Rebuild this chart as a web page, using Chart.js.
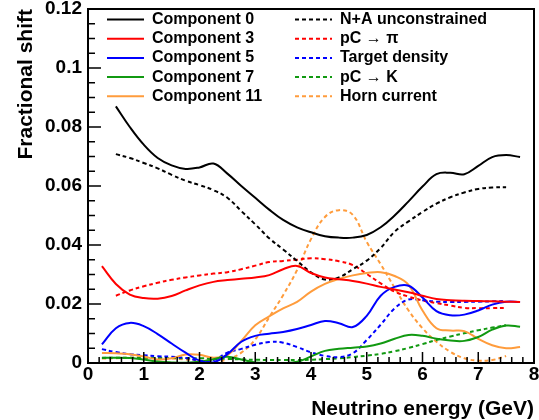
<!DOCTYPE html>
<html>
<head>
<meta charset="utf-8">
<script src="https://cdn.jsdelivr.net/npm/chart.js@4"></script>
<style>
  html, body { margin: 0; padding: 0; background: #fff; }
</style>
</head>
<body>
<canvas id="myChart" width="539" height="420"></canvas>
<script>
// neutrino energy bins (GeV)
const energy = [0.25, 0.5, 0.75, 1, 1.25, 1.5, 1.75, 2, 2.25, 2.5, 2.75,
                3, 3.25, 3.5, 3.75, 4, 4.25, 4.5, 4.75, 5, 5.25,
                5.5, 5.75, 6, 6.25, 6.5, 6.75, 7, 7.25, 7.5, 7.75];

// principal components (solid)
const comp0 = [null, 0.087, 0.080, 0.074, 0.0695, 0.067, 0.0658, 0.0663, 0.0676, 0.0642, 0.060,
               0.056, 0.052, 0.0485, 0.046, 0.0443, 0.043, 0.0425, 0.0425, 0.0434, 0.046,
               0.050, 0.0548, 0.0598, 0.064, 0.0645, 0.064, 0.0668, 0.0698, 0.0705, 0.0698];
const comp3 = [0.0328, 0.0268, 0.0232, 0.0220, 0.0218, 0.0227, 0.0246, 0.0263, 0.0275, 0.0281, 0.0286,
               0.029, 0.0298, 0.0318, 0.0329, 0.0305, 0.029, 0.0284, 0.0278, 0.0269, 0.0258,
               0.0249, 0.024, 0.0228, 0.0217, 0.0213, 0.0211, 0.021, 0.0209, 0.0208, 0.0207];
const comp5 = [0.0063, 0.0118, 0.0136, 0.0125, 0.0098, 0.0066, 0.0035, 0.0008, 0.0002, 0.003, 0.0072,
               0.0092, 0.0099, 0.0105, 0.0115, 0.0129, 0.0142, 0.0135, 0.0122, 0.016, 0.0228,
               0.0258, 0.0262, 0.0222, 0.0176, 0.0162, 0.0164, 0.0178, 0.0198, 0.0208, 0.0207];
const comp7 = [0.0017, 0.0018, 0.0017, 0.0012, 0.0005, 0.0002, 0.0001, 0.0004, 0.0013, 0.0021, 0.0012,
               0.0002, 0.0, 0.0, 0.0004, 0.0022, 0.0041, 0.0048, 0.0052, 0.0056, 0.0066,
               0.0082, 0.0095, 0.0092, 0.0082, 0.0076, 0.0075, 0.0088, 0.0113, 0.0127, 0.0123];
const comp11 = [0.0034, 0.0033, 0.003, 0.0022, 0.0012, 0.0016, 0.0029, 0.0028, 0.0018, 0.0027, 0.0075,
                0.0128, 0.0158, 0.0185, 0.0207, 0.0242, 0.0268, 0.0285, 0.0297, 0.0305, 0.0308,
                0.0295, 0.0265, 0.0178, 0.0118, 0.011, 0.0108, 0.0082, 0.006, 0.005, 0.0054];

// individual systematics (dashed)
const nAunc = [null, 0.0708, 0.0695, 0.0678, 0.066, 0.0638, 0.0618, 0.0603, 0.0586, 0.056, 0.0515,
               0.047, 0.0423, 0.0385, 0.0346, 0.0307, 0.0283, 0.029, 0.0318, 0.0347, 0.039,
               0.0445, 0.048, 0.0512, 0.054, 0.0562, 0.0578, 0.059, 0.0595, 0.0596, null];
const pCpi = [null, 0.0228, 0.0246, 0.026, 0.0272, 0.0282, 0.029, 0.0297, 0.0303, 0.0308, 0.0318,
              0.033, 0.0342, 0.0346, 0.035, 0.0355, 0.0352, 0.0345, 0.0332, 0.0302, 0.027,
              0.0242, 0.0225, 0.0212, 0.0203, 0.0195, 0.0187, 0.0186, 0.0186, 0.0187, null];
const target = [0.0047, 0.0037, 0.003, 0.0026, 0.0023, 0.0021, 0.0017, 0.0008, 0.001, 0.0035, 0.0048,
                0.0062, 0.0071, 0.0069, 0.0054, 0.0036, 0.0024, 0.002, 0.0033, 0.0078, 0.013,
                0.0185, 0.0215, 0.0213, 0.0208, 0.0207, 0.0207, 0.0208, 0.0209, 0.021, null];
const pCK = [0.0018, 0.0018, 0.0018, 0.0018, 0.0017, 0.0017, 0.0016, 0.0016, 0.0015, 0.0014, 0.0012,
             0.0011, 0.001, 0.001, 0.001, 0.0011, 0.0013, 0.0016, 0.002, 0.0025, 0.0031,
             0.004, 0.0051, 0.0064, 0.0078, 0.009, 0.0101, 0.0111, 0.012, 0.0128, null];
const horn = [0.0015, 0.0016, 0.0018, 0.0018, 0.0017, 0.0015, 0.0012, 0.0008, 0.0004, 0.0012, 0.0035,
              0.008, 0.0155, 0.023, 0.0315, 0.042, 0.0495, 0.0518, 0.0502, 0.041, 0.0335,
              0.0255, 0.0178, 0.0118, 0.0072, 0.0038, 0.0016, 0.0008, 0.001, 0.0024, null];

const solidLabels = ['Component 0', 'Component 3', 'Component 5', 'Component 7', 'Component 11'];
const dashLabels = ['N+A unconstrained', 'pC \u2192 \u03c0', 'Target density', 'pC \u2192 K', 'Horn current'];
const colours = ['#000000', '#ff0000', '#0000ff', '#119911', '#ff9c3c'];

const pts = vals => energy.map((e, i) => ({ x: e, y: vals[i] }));

const solidSets = [comp0, comp3, comp5, comp7, comp11].map((v, i) => ({
  label: solidLabels[i], data: pts(v), borderColor: colours[i], borderWidth: 2
}));
const dashSets = [nAunc, pCpi, target, pCK, horn].map((v, i) => ({
  label: dashLabels[i], data: pts(v), borderColor: colours[i], borderWidth: 2, borderDash: [4, 3]
}));

// ROOT style frame with inward ticks
const frameTicks = {
  id: 'frameTicks',
  afterDraw(chart) {
    const { ctx, chartArea: a, scales: { x, y } } = chart;
    ctx.save();
    ctx.strokeStyle = '#000';
    ctx.lineWidth = 2;
    ctx.strokeRect(a.left, a.top, a.right - a.left, a.bottom - a.top);
    ctx.lineWidth = 1.5;
    ctx.beginPath();
    for (let i = 0; i <= 40; i++) {
      const px = x.getPixelForValue(i * 0.2);
      const len = i % 5 === 0 ? 11 : 6;
      ctx.moveTo(px, a.bottom);
      ctx.lineTo(px, a.bottom - len);
    }
    for (let i = 0; i <= 24; i++) {
      const py = y.getPixelForValue(i * 0.005);
      const len = i % 4 === 0 ? 13 : 7;
      ctx.moveTo(a.left, py);
      ctx.lineTo(a.left + len, py);
    }
    ctx.stroke();
    ctx.restore();
  }
};

// two column legend inside the frame
const boxLegend = {
  id: 'boxLegend',
  afterDraw(chart) {
    const { ctx, chartArea: a } = chart;
    ctx.save();
    ctx.font = 'bold 16px "Liberation Sans", Arial, sans-serif';
    ctx.textBaseline = 'middle';
    ctx.fillStyle = '#000';
    chart.data.datasets.forEach((ds, i) => {
      const col = i < 5 ? 0 : 1;
      const row = i % 5;
      const x0 = a.left + (col ? 207 : 19);
      const yy = a.top + 10.5 + row * 19.2;
      ctx.strokeStyle = ds.borderColor;
      ctx.lineWidth = 2;
      ctx.setLineDash(ds.borderDash || []);
      ctx.beginPath();
      ctx.moveTo(x0, yy);
      ctx.lineTo(x0 + 37, yy);
      ctx.stroke();
      ctx.fillText(ds.label, x0 + 45, yy);
    });
    ctx.restore();
  }
};

Chart.defaults.font.family = '"Liberation Sans", Arial, sans-serif';
Chart.defaults.color = '#000';

const config = {
  type: 'line',
  data: { datasets: [...solidSets, ...dashSets] },
  options: {
    responsive: false,
    animation: false,
    layout: { padding: { top: 9, right: 5, left: 0, bottom: 0 } },
    elements: { point: { radius: 0 }, line: { tension: 0.4 } },
    plugins: { legend: { display: false }, tooltip: { enabled: false } },
    scales: {
      x: {
        type: 'linear', min: 0, max: 8,
        grid: { display: false, drawTicks: false },
        border: { display: false },
        ticks: { stepSize: 1, padding: 0, autoSkip: false, maxRotation: 0,
                 font: { size: 19, weight: 'bold' }, color: '#000' },
        title: { display: true, text: 'Neutrino energy (GeV)', align: 'end',
                 font: { size: 21, weight: 'bold' }, color: '#000', padding: { top: 0, bottom: -2 } },
        afterFit(s) { s.height = 57; s.paddingLeft = 0; s.paddingRight = 0; }
      },
      y: {
        min: 0, max: 0.12,
        grid: { display: false, drawTicks: false },
        border: { display: false },
        ticks: { stepSize: 0.02, padding: 6, autoSkip: false,
                 font: { size: 19, weight: 'bold' }, color: '#000',
                 callback: v => String(+v.toFixed(3)) },
        title: { display: true, text: 'Fractional shift', align: 'end',
                 font: { size: 21, weight: 'bold' }, color: '#000', padding: { top: 14, bottom: 0 } },
        afterFit(s) { s.width = 88; s.paddingTop = 0; s.paddingBottom = 0; }
      }
    }
  },
  plugins: [frameTicks, boxLegend]
};

const myChart = new Chart(document.getElementById('myChart'), config);
</script>
</body>
</html>
